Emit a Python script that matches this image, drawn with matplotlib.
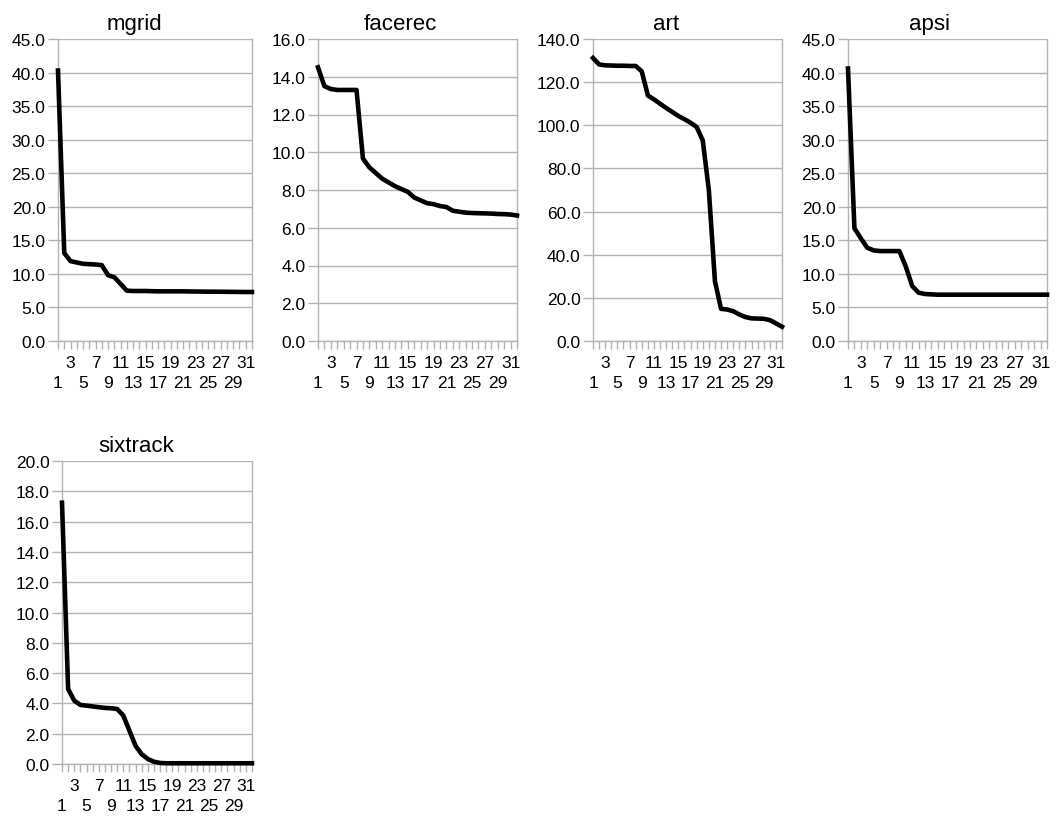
import numpy as np
import matplotlib
matplotlib.use("Agg")
import matplotlib.pyplot as plt
from matplotlib.ticker import FormatStrFormatter, FixedLocator, FixedFormatter

plt.rcParams["font.family"] = ["Liberation Sans", "DejaVu Sans"]

# x categories 1..32
runs = list(range(1, 33))

mgrid = [40.3, 13.1, 11.9, 11.7, 11.5, 11.45, 11.4, 11.3, 9.8, 9.5, 8.5, 7.5,
         7.45, 7.45, 7.45, 7.42, 7.4, 7.4, 7.4, 7.4, 7.4, 7.38, 7.37, 7.36,
         7.35, 7.35, 7.34, 7.33, 7.32, 7.31, 7.3, 7.3]
facerec = [14.5, 13.5, 13.35, 13.3, 13.3, 13.3, 13.3, 9.67, 9.2, 8.9, 8.6, 8.4,
           8.2, 8.05, 7.9, 7.6, 7.45, 7.3, 7.25, 7.15, 7.1, 6.9, 6.85, 6.8,
           6.78, 6.77, 6.76, 6.75, 6.73, 6.72, 6.7, 6.65]
art = [131.2, 128.2, 127.8, 127.7, 127.6, 127.6, 127.5, 127.5, 125.0, 113.8,
       112.0, 110.0, 108.0, 106.2, 104.3, 102.8, 101.2, 99.2, 93.0, 70.0,
       27.7, 14.9, 14.6, 13.8, 12.3, 11.1, 10.5, 10.4, 10.3, 9.7, 8.2, 6.6]
apsi = [40.6, 16.8, 15.3, 13.9, 13.5, 13.4, 13.4, 13.4, 13.4, 11.1, 8.2, 7.2,
        7.0, 6.95, 6.9, 6.9, 6.9, 6.9, 6.9, 6.9, 6.9, 6.9, 6.9, 6.9, 6.9,
        6.9, 6.9, 6.9, 6.9, 6.9, 6.9, 6.9]
sixtrack = [17.25, 4.95, 4.18, 3.9, 3.85, 3.8, 3.75, 3.7, 3.68, 3.63, 3.2, 2.2,
            1.2, 0.65, 0.33, 0.15, 0.07, 0.05, 0.05, 0.05, 0.05, 0.05, 0.05,
            0.05, 0.05, 0.05, 0.05, 0.05, 0.05, 0.05, 0.05, 0.05]

W, H = 1057, 820
fig = plt.figure(figsize=(W / 100, H / 100), dpi=100)

grid_col = "#b3b3b3"

# (title, data, ymax, ystep, axes px box l, r, t, b, title x, title baseline y)
charts = [
    ("mgrid", mgrid, 45, 5, 58, 252, 40, 342, 134, 30),
    ("facerec", facerec, 16, 2, 318, 517, 40, 342, 400, 30),
    ("art", art, 140, 20, 593, 782, 40, 342, 666, 30),
    ("apsi", apsi, 45, 5, 848, 1047, 40, 342, 929, 30),
    ("sixtrack", sixtrack, 20, 2, 62, 252, 462, 765, 136, 452),
]

# staggered category labels: upper row 3, 7, ... lower row 1, 5, ...
upper = [i for i in runs if i % 4 == 3]
lower_pos = [i for i in runs if i % 4 != 3]
lower_lab = [str(i) if i % 4 == 1 else "" for i in lower_pos]

for title, data, ymax, ystep, l, r, t, b, tx, ty in charts:
    ax = fig.add_axes([l / W, 1 - b / H, (r - l) / W, (b - t) / H])
    ax.plot(runs, data, color="black", linewidth=3.3, solid_joinstyle="round",
            clip_on=False, zorder=3)
    ax.set_xlim(1, 32)
    ax.set_ylim(0, ymax)
    ax.set_yticks(np.arange(0, ymax + ystep / 2, ystep))
    ax.yaxis.set_major_formatter(FormatStrFormatter("%.1f"))
    ax.xaxis.set_major_locator(FixedLocator(upper))
    ax.xaxis.set_major_formatter(FixedFormatter([str(i) for i in upper]))
    ax.xaxis.set_minor_locator(FixedLocator(lower_pos))
    ax.xaxis.set_minor_formatter(FixedFormatter(lower_lab))
    ax.grid(axis="y", color=grid_col, linewidth=1.0)
    ax.set_axisbelow(True)
    for side in ["left", "bottom", "right"]:
        ax.spines[side].set_color(grid_col)
        ax.spines[side].set_linewidth(1.0)
    ax.spines["top"].set_visible(False)
    ax.tick_params(axis="both", which="both", colors=grid_col, labelcolor="black",
                   labelsize=12.5, width=1.0)
    ax.tick_params(axis="y", length=7, pad=2)
    ax.tick_params(axis="x", which="major", length=6, pad=4)
    ax.tick_params(axis="x", which="minor", length=6, pad=18.5)
    fig.text(tx / W, 1 - ty / H, title, ha="center", va="baseline", fontsize=16)

fig.savefig("out.png", dpi=100)
